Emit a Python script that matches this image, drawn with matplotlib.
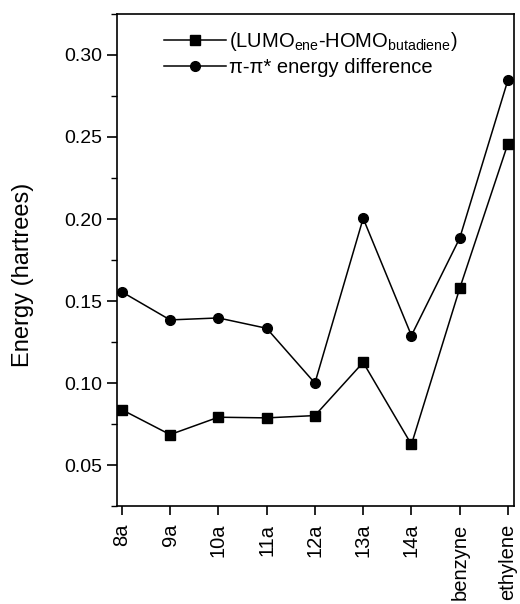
import matplotlib
matplotlib.use("Agg")
import matplotlib.pyplot as plt
from matplotlib.ticker import MultipleLocator

plt.rcParams['font.family'] = ['Liberation Sans', 'DejaVu Sans']
plt.rcParams['mathtext.fontset'] = 'custom'
plt.rcParams['mathtext.rm'] = 'Liberation Sans'
plt.rcParams['mathtext.it'] = 'Liberation Sans'

categories = ["8a", "9a", "10a", "11a", "12a", "13a", "14a", "benzyne", "ethylene"]
lumo_homo = [0.0838, 0.0686, 0.0792, 0.0788, 0.0802, 0.1126, 0.0626, 0.1577, 0.246]
pi_pi = [0.1556, 0.1385, 0.1397, 0.1334, 0.1000, 0.2004, 0.1290, 0.1883, 0.2848]
label_sq = r"(LUMO$_{\mathrm{ene}}$-HOMO$_{\mathrm{butadiene}}$)"
label_ci = "π-π* energy difference"

fig = plt.figure(figsize=(5.2, 6.04), dpi=100)
ax = fig.add_axes([0.225, 0.162, 0.763, 0.815])
x = list(range(len(categories)))
ax.plot(x, lumo_homo, color='black', lw=1.1, marker='s', ms=6.5, label=label_sq)
ax.plot(x, pi_pi, color='black', lw=1.1, marker='o', ms=7, label=label_ci)

ax.set_xlim(-0.1, 8.12)
ax.set_ylim(0.025, 0.325)
ax.set_xticks(x)
ax.set_xticklabels(categories, rotation=90, fontsize=14.5)
ax.yaxis.set_major_locator(MultipleLocator(0.05))
ax.yaxis.set_minor_locator(MultipleLocator(0.025))
ax.yaxis.set_major_formatter(matplotlib.ticker.FormatStrFormatter('%.2f'))
ax.tick_params(axis='y', which='major', direction='out', length=7, width=1.2, labelsize=14)
ax.tick_params(axis='y', which='minor', direction='out', length=4, width=1.0)
ax.tick_params(axis='x', direction='out', length=6.5, width=1.2, pad=6)
for s in ax.spines.values():
    s.set_linewidth(1.2)
ax.set_ylabel("Energy (hartrees)", fontsize=17)
ax.yaxis.set_label_coords(-0.21, 0.47)

ax.legend(loc='upper left', bbox_to_anchor=(0.082, 0.995), frameon=False, fontsize=14.5,
          handlelength=3.1, handletextpad=0.15, labelspacing=0.25, borderpad=0.2)

fig.savefig("out.png", dpi=100)
